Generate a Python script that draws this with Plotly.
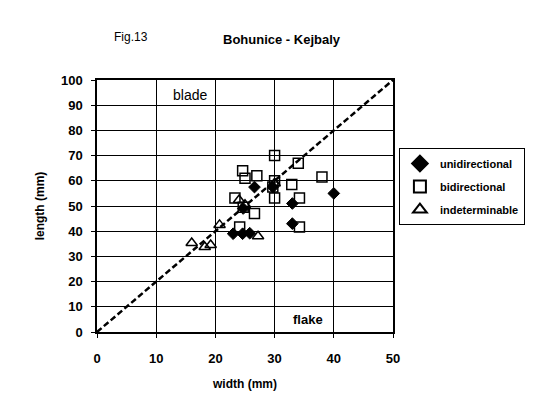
import plotly.graph_objects as go

# widths / lengths (mm)
uni_w = [40, 33, 33, 23, 24.6, 25.8, 26.6, 29.7, 24.7]
uni_l = [55, 51, 43, 39, 39, 39.2, 57.5, 57.5, 49]

bi_w = [30, 34, 38, 24.6, 25, 27, 32.9, 34.2, 30, 30, 23.3, 24.7, 26.6, 24.1, 34.2, 29.7]
bi_l = [70, 67, 61.5, 64, 61, 62, 58.5, 53.2, 53.2, 60, 53.2, 49.5, 47, 41.7, 41.7, 57.5]

ind_w = [16, 18.2, 19.2, 20.7, 24, 25, 27.2, 30]
ind_l = [35.3, 33.7, 34.5, 42.5, 52.4, 50.5, 38, 59]

line_x = [0, 50]
line_y = [0, 100]

fnt = "Liberation Sans, Arial, sans-serif"

fig = go.Figure()
fig.add_trace(go.Scatter(x=line_x, y=line_y, mode='lines', showlegend=False,
                         line=dict(color='black', width=2.5, dash='6px,3px'), hoverinfo='skip'))
fig.add_trace(go.Scatter(x=uni_w, y=uni_l, mode='markers', name='<b>unidirectional</b>',
                         legendgroup='u',
                         marker=dict(symbol='diamond', size=9, color='black',
                                     line=dict(color='black', width=1))))
fig.add_trace(go.Scatter(x=bi_w, y=bi_l, mode='markers', name='<b>bidirectional</b>',
                         legendgroup='b',
                         marker=dict(symbol='square-open', size=10, color='black',
                                     line=dict(color='black', width=1.5))))
fig.add_trace(go.Scatter(x=ind_w, y=ind_l, mode='markers', name='<b>indeterminable</b>',
                         legendgroup='i',
                         marker=dict(symbol='triangle-up-open', size=10, color='black',
                                     line=dict(color='black', width=1.5))))

fig.update_xaxes(range=[0, 50], dtick=10, showgrid=True, gridcolor='black', gridwidth=1,
                 showline=True, linecolor='black', linewidth=1.5, mirror=True,
                 ticks='outside', ticklen=4, tickcolor='black', zeroline=False,
                 automargin=False, ticklabelstandoff=10, tickprefix='<b>', ticksuffix='</b>',
                 tickfont=dict(family=fnt, size=13, color='black'),
                 title=dict(text='<b>width (mm)</b>', font=dict(family=fnt, size=12, color='black'),
                            standoff=14))
fig.update_yaxes(range=[0, 100], dtick=10, showgrid=True, gridcolor='black', gridwidth=1,
                 showline=True, linecolor='black', linewidth=1.5, mirror=True,
                 ticks='outside', ticklen=4, tickcolor='black', zeroline=False,
                 automargin=False, ticklabelstandoff=6, tickprefix='<b>', ticksuffix='</b>',
                 tickfont=dict(family=fnt, size=13, color='black'),
                 title=dict(text='<b>length (mm)</b>', font=dict(family=fnt, size=12, color='black'),
                            standoff=14))

# page has an 8px body margin, so the figure is a bit smaller than the window
fig.update_layout(
    width=534, height=409,
    margin=dict(l=89, r=149, t=72, b=85),
    plot_bgcolor='white', paper_bgcolor='white',
    font=dict(family=fnt, size=12, color='black'),
    legend=dict(x=1.02, y=0.73, xanchor='left', yanchor='top',
                bordercolor='black', borderwidth=1, bgcolor='white',
                font=dict(family=fnt, size=11, color='black'),
                itemsizing='constant', tracegroupgap=4),
)

fig.add_annotation(text='Fig.13', xref='paper', yref='paper', x=(131 - 97) / 296, y=1 + 52 / 252,
                   xanchor='center', showarrow=False, font=dict(family=fnt, size=12, color='black'))
fig.add_annotation(text='<b>Bohunice - Kejbaly</b>', xref='paper', yref='paper',
                   x=(282 - 97) / 296, y=1 + 50 / 252, xanchor='center', showarrow=False,
                   font=dict(family=fnt, size=13, color='black'))
fig.add_annotation(text='blade', x=15.7, y=94, showarrow=False,
                   font=dict(family=fnt, size=14, color='black'), bgcolor='white')
fig.add_annotation(text='<b>flake</b>', x=35.6, y=5, showarrow=False,
                   font=dict(family=fnt, size=13, color='black'), bgcolor='white')

fig.write_html("out.html")
